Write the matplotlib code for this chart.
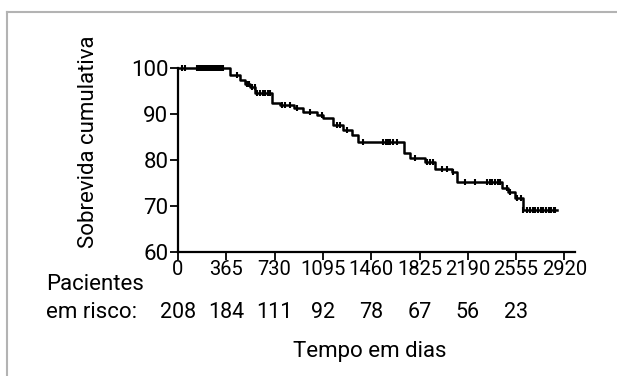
import matplotlib
matplotlib.use("Agg")
import matplotlib.pyplot as plt
from matplotlib.lines import Line2D
import matplotlib.transforms as mtrans
import numpy as np

plt.rcParams['font.family'] = ['Roboto', 'DejaVu Sans']

# Kaplan-Meier step curve (day of event, survival after event, %)
step_days = [0, 393, 469, 507, 545, 582, 711, 771, 877, 945, 1051, 1097, 1172,
             1248, 1316, 1362, 1710, 1755, 1868, 1944, 2073, 2110, 2451, 2496,
             2549, 2610]
step_surv = [100, 98.5, 97.4, 96.5, 95.9, 94.6, 92.4, 92.0, 91.3, 90.4, 89.8,
             89.1, 87.6, 86.5, 85.4, 83.9, 81.5, 80.4, 79.6, 78.0, 77.4, 75.2,
             73.9, 73.0, 71.7, 69.1]
last_day = 2867

# censored observations (days)
censor_days = [28, 53, 143, 160, 175, 190, 205, 215, 228, 240, 255, 270, 285,
               300, 315, 330, 340, 446, 522, 540, 560, 580, 598, 620, 640, 660,
               680, 696, 787, 809, 847, 900, 998, 1089, 1203, 1225, 1278, 1399,
               1550, 1570, 1590, 1603, 1626, 1656, 1793, 1883, 1905, 1929, 1997,
               2035, 2080, 2171, 2247, 2337, 2355, 2375, 2395, 2415, 2436, 2489,
               2511, 2564, 2590, 2610, 2640, 2660, 2680, 2700, 2720, 2740, 2760,
               2780, 2800, 2820, 2840, 2852]

x_ticks = [0, 365, 730, 1095, 1460, 1825, 2190, 2555, 2920]
y_ticks = [60, 70, 80, 90, 100]
at_risk = [208, 184, 111, 92, 78, 67, 56, 23]

FS_TXT = 16
FS_TICK = 14.5
FS_RISK = 15.5
W, H = 617, 376
fig = plt.figure(figsize=(W / 100, H / 100), dpi=100)
ax = fig.add_axes([178 / W, 1 - 252 / H, (575 - 178) / W, (252 - 68) / H])

xs = list(step_days) + [last_day]
ys = list(step_surv) + [step_surv[-1]]
ax.step(xs, ys, where='post', color='black', lw=1.8, clip_on=False, zorder=3)

def surv_at(d):
    idx = np.searchsorted(step_days, d, side='right') - 1
    return step_surv[idx]

cy = [surv_at(d) for d in censor_days]
ax.plot(censor_days, cy, ls='none', marker='|', ms=5, mew=1.5, color='black',
        clip_on=False, zorder=4)

ax.set_xlim(0, 3000)
ax.set_ylim(60, 100)
ax.spines['top'].set_visible(False)
ax.spines['right'].set_visible(False)
ax.spines['left'].set_linewidth(1.6)
ax.spines['bottom'].set_linewidth(1.6)
ax.set_xticks(x_ticks)
ax.set_xticklabels([str(t) for t in x_ticks])
ax.set_yticks(y_ticks)
ax.set_yticklabels([str(t) for t in y_ticks])
ax.tick_params(axis='both', direction='out', length=6, width=1.3,
               labelsize=FS_TICK, colors='black', pad=1)
ax.tick_params(axis='x', pad=0)
for lab in ax.get_yticklabels():
    lab.set_fontsize(FS_TXT)

fig.text(88 / W, 1 - 142 / H, 'Sobrevida cumulativa', rotation=90,
         ha='center', va='center', fontsize=FS_TXT)

fig.text(46 / W, 1 - 285 / H, 'Pacientes', ha='left', va='center', fontsize=FS_TXT)
fig.text(46 / W, 1 - 313 / H, 'em risco:', ha='left', va='center', fontsize=FS_TXT)
row_tr = mtrans.blended_transform_factory(ax.transData, fig.transFigure)
for d, n in zip(x_ticks, at_risk):
    ax.text(d, 1 - 313 / H, str(n), transform=row_tr, ha='center',
            va='center', fontsize=FS_RISK)

fig.text(370 / W, 1 - 352 / H, 'Tempo em dias', ha='center', va='center',
         fontsize=FS_TXT)

# outer frame (partially cropped panel)
fig.add_artist(Line2D([7 / W, 7 / W], [0, 1 - 11.5 / H], transform=fig.transFigure,
                      color='#b3b3b3', lw=1.5))
fig.add_artist(Line2D([7 / W, 1], [1 - 11.5 / H, 1 - 11.5 / H],
                      transform=fig.transFigure, color='#b3b3b3', lw=1.5))

fig.savefig('out.png', dpi=100)
